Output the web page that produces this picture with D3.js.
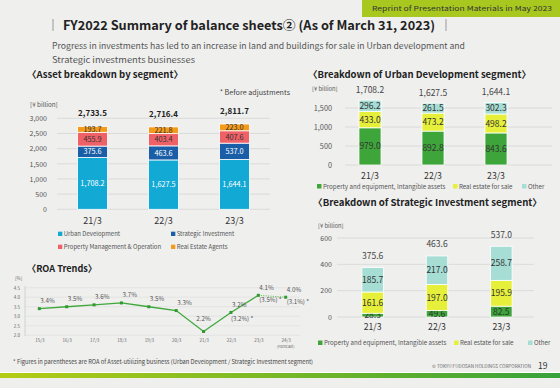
<!DOCTYPE html>
<html><head><meta charset="utf-8">
<script src="https://cdn.jsdelivr.net/npm/d3@7"></script>
<style>html,body{margin:0;padding:0;background:#efefee;}svg{display:block;}</style>
</head><body><svg id="c" width="560" height="388"></svg>
<script>
// ---------- data ----------
const years = ["21/3", "22/3", "23/3"];
// Asset breakdown by segment (¥ billion)
const segUrban = [1708.2, 1627.5, 1644.1];
const segStrategic = [375.6, 463.6, 537.0];
const segPropertyMgmt = [455.9, 403.4, 407.6];
const segAgents = [193.7, 221.8, 223.0];
const segTotals = [2733.5, 2716.4, 2811.7];
const segTicks = [0, 500, 1000, 1500, 2000, 2500, 3000];
// Urban Development breakdown
const udProperty = [979.0, 892.8, 843.6];
const udRealEstate = [433.0, 473.2, 498.2];
const udOther = [296.2, 261.5, 302.3];
const udTotals = [1708.2, 1627.5, 1644.1];
const udTicks = [0, 500, 1000, 1500];
// Strategic Investment breakdown
const siProperty = [28.3, 49.6, 82.5];
const siRealEstate = [161.6, 197.0, 195.9];
const siOther = [185.7, 217.0, 258.7];
const siTotals = [375.6, 463.6, 537.0];
const siTicks = [0, 200, 400, 600];
// ROA trends (%)
const roaYears = ["15/3", "16/3", "17/3", "18/3", "19/3", "20/3", "21/3", "22/3", "23/3", "24/3"];
const roaValues = [3.4, 3.5, 3.6, 3.7, 3.5, 3.3, 2.2, 3.2, 4.1, 4.0];
const roaAsset = [null, null, null, null, null, null, null, 3.2, 3.5, 3.1];
const roaTicks = [2.0, 2.5, 3.0, 3.5, 4.0, 4.5];

// ---------- setup ----------
const svg = d3.select("#c");
const F = '"Noto Sans CJK JP","Noto Sans",sans-serif';
const fmt = d3.format(",.1f");
const pct = v => v.toFixed(1) + "%";

svg.append("rect").attr("width", 560).attr("height", 388).attr("fill", "#efefee");

function txt(x, y, s, o = {}) {
  const t = svg.append("text").attr("x", x).attr("y", y).text(s)
    .attr("font-family", F).attr("font-size", o.size || 8)
    .attr("fill", o.fill || "#333").attr("font-weight", o.weight || "normal")
    .attr("text-anchor", o.anchor || "start");
  if (o.len) t.attr("textLength", o.len).attr("lengthAdjust", "spacingAndGlyphs");
  return t;
}

// header badge
svg.append("rect").attr("x", 362).attr("y", 0).attr("width", 198).attr("height", 17).attr("fill", "#a8c820");
txt(552, 11, "Reprint of Presentation Materials in May 2023", {size: 6.8, fill: "#333", anchor: "end", len: 180});

// title
svg.append("line").attr("x1", 53).attr("x2", 53).attr("y1", 19).attr("y2", 31).attr("stroke", "#999");
svg.append("line").attr("x1", 446).attr("x2", 446).attr("y1", 19).attr("y2", 31).attr("stroke", "#999");
txt(63, 30, "FY2022 Summary of balance sheets\u2461 (As of March 31, 2023)", {size: 12.3, weight: "bold", fill: "#222", len: 372});
txt(52, 49, "Progress in investments has led to an increase in land and buildings for sale in Urban development and", {size: 8.3, fill: "#555", len: 413});
txt(52, 63, "Strategic investments businesses", {size: 8.3, fill: "#555", len: 143});

// section headings
txt(27, 78, "\u3008Asset breakdown by segment\u3009", {size: 9.5, weight: "bold", fill: "#222", len: 156});
txt(308, 78, "\u3008Breakdown of Urban Development segment\u3009", {size: 9.5, weight: "bold", fill: "#222", len: 223});
txt(313, 206, "\u3008Breakdown of Strategic Investment segment\u3009", {size: 9.5, weight: "bold", fill: "#222", len: 229});
txt(27, 272, "\u3008ROA Trends\u3009", {size: 9.5, weight: "bold", fill: "#222", len: 70});

// ---------- stacked bar helper ----------
function stacked(cfg) {
  const g = svg.append("g");
  const y = d3.scaleLinear().domain(cfg.domain).range(cfg.yRange);
  const x = d3.scaleBand().domain(years).range(cfg.xRange).paddingInner(cfg.pad).paddingOuter(cfg.pad / 2);
  g.selectAll("line.grid").data(cfg.ticks).join("line")
    .attr("x1", cfg.gridX[0]).attr("x2", cfg.gridX[1])
    .attr("y1", d => y(d)).attr("y2", d => y(d))
    .attr("stroke", "#d6d6d6").attr("stroke-width", 0.8);
  const ax = g.append("g").attr("transform", `translate(${cfg.tickX},0)`)
    .call(d3.axisLeft(y).tickValues(cfg.ticks).tickFormat(d3.format(",")).tickSize(0).tickPadding(0));
  ax.select(".domain").remove();
  ax.selectAll("text").attr("font-family", F).attr("font-size", cfg.tickSize).attr("fill", "#555");
  txt(cfg.unitX, cfg.unitY, "[\u00a5 billion]", {size: cfg.unitSize, fill: "#555"});
  const rows = years.map((yr, i) => {
    const r = {year: yr};
    cfg.series.forEach(s => r[s.key] = s.values[i]);
    return r;
  });
  const st = d3.stack().keys(cfg.series.map(s => s.key))(rows);
  st.forEach((layer, li) => {
    const s = cfg.series[li];
    g.selectAll(null).data(layer).join("rect")
      .attr("x", d => x(d.data.year)).attr("width", x.bandwidth())
      .attr("y", d => y(d[1])).attr("height", d => y(d[0]) - y(d[1]))
      .attr("fill", s.color).attr("stroke", "#fff").attr("stroke-width", 0.8);
    g.selectAll(null).data(layer).join("text")
      .attr("x", d => x(d.data.year) + x.bandwidth() / 2)
      .attr("y", d => (y(d[0]) + y(d[1])) / 2)
      .attr("dy", "0.36em").attr("text-anchor", "middle")
      .attr("font-family", F).attr("font-size", cfg.labelSize)
      .attr("fill", s.text).text(d => fmt(d.data[s.key]));
  });
  g.selectAll(null).data(cfg.totals).join("text")
    .attr("x", (d, i) => x(years[i]) + x.bandwidth() / 2)
    .attr("y", d => y(d) - cfg.totalGap)
    .attr("text-anchor", "middle").attr("font-family", F)
    .attr("font-size", cfg.totalSize).attr("font-weight", cfg.totalWeight)
    .attr("fill", cfg.totalFill).text(d => fmt(d));
  const xa = g.append("g").attr("transform", `translate(0,${cfg.xLabelY})`)
    .call(d3.axisBottom(x).tickSize(0).tickPadding(0));
  xa.select(".domain").remove();
  xa.selectAll("text").attr("font-family", F).attr("font-size", cfg.xSize).attr("fill", "#333").attr("dy", 0);
  cfg.legend.forEach(l => {
    svg.append("rect").attr("x", l.x).attr("y", l.y - cfg.legSize * 0.72).attr("width", cfg.legSize * 0.72).attr("height", cfg.legSize * 0.72)
      .attr("fill", l.color);
    txt(l.x + cfg.legSize * 0.95, l.y, l.label, {size: cfg.legSize, fill: "#555"});
  });
}

const C = {
  urban: "#13a9d5", strat: "#1b5ea8", pm: "#ee6167", agents: "#f49b1b",
  prop: "#3da53a", re: "#e6f03b", other: "#a6ddd4"
};

// Asset breakdown by segment
stacked({
  domain: [0, 3000], yRange: [209.3, 118.3], xRange: [57, 270], pad: 0.58,
  ticks: segTicks, gridX: [57, 270], tickX: 47, tickSize: 7,
  unitX: 30, unitY: 107, unitSize: 6.3,
  series: [
    {key: "Urban Development", values: segUrban, color: C.urban, text: "#fff"},
    {key: "Strategic Investment", values: segStrategic, color: C.strat, text: "#fff"},
    {key: "Property Management & Operation", values: segPropertyMgmt, color: C.pm, text: "#333"},
    {key: "Real Estate Agents", values: segAgents, color: C.agents, text: "#333"}
  ],
  labelSize: 7.3, totals: segTotals, totalGap: 10, totalSize: 8, totalWeight: "bold", totalFill: "#222",
  xLabelY: 223.5, xSize: 9,
  legSize: 6,
  legend: [
    {x: 58, y: 236, label: "Urban Development", color: C.urban},
    {x: 171, y: 236, label: "Strategic Investment", color: C.strat},
    {x: 58, y: 249, label: "Property Management & Operation", color: C.pm},
    {x: 171, y: 249, label: "Real Estate Agents", color: C.agents}
  ]
});
txt(290, 95, "* Before adjustments", {size: 7.2, fill: "#444", anchor: "end"});

// Urban Development breakdown
stacked({
  domain: [0, 1500], yRange: [165, 108], xRange: [338.5, 527.5], pad: 0.65,
  ticks: udTicks, gridX: [345, 552], tickX: 332, tickSize: 7.3,
  unitX: 312, unitY: 91, unitSize: 5.8,
  series: [
    {key: "Property and equipment, Intangible assets", values: udProperty, color: C.prop, text: "#333"},
    {key: "Real estate for sale", values: udRealEstate, color: C.re, text: "#333"},
    {key: "Other", values: udOther, color: C.other, text: "#333"}
  ],
  labelSize: 8.5, totals: udTotals, totalGap: 7.5, totalSize: 8.5, totalWeight: "normal", totalFill: "#444",
  xLabelY: 178.5, xSize: 8.7,
  legSize: 6.2,
  legend: [
    {x: 317, y: 188.5, label: "Property and equipment, Intangible assets", color: C.prop},
    {x: 453, y: 188.5, label: "Real estate for sale", color: C.re},
    {x: 522, y: 188.5, label: "Other", color: C.other}
  ]
});

// Strategic Investment breakdown
stacked({
  domain: [0, 600], yRange: [317, 238], xRange: [340.5, 533.5], pad: 0.665,
  ticks: siTicks, gridX: [337, 534], tickX: 332, tickSize: 7,
  unitX: 318, unitY: 228, unitSize: 5.8,
  series: [
    {key: "Property and equipment, Intangible assets", values: siProperty, color: C.prop, text: "#333"},
    {key: "Real estate for sale", values: siRealEstate, color: C.re, text: "#333"},
    {key: "Other", values: siOther, color: C.other, text: "#333"}
  ],
  labelSize: 8.5, totals: siTotals, totalGap: 8.5, totalSize: 8.5, totalWeight: "normal", totalFill: "#444",
  xLabelY: 330, xSize: 8.7,
  legSize: 6.2,
  legend: [
    {x: 318, y: 345, label: "Property and equipment, Intangible assets", color: C.prop},
    {x: 454, y: 345, label: "Real estate for sale", color: C.re},
    {x: 528, y: 345, label: "Other", color: C.other}
  ]
});

// ---------- ROA trends ----------
{
  const g = svg.append("g");
  const y = d3.scaleLinear().domain([2.0, 4.5]).range([335.3, 287.7]);
  const x = d3.scalePoint().domain(roaYears).range([39.3, 285.7]);
  g.selectAll(null).data(roaTicks).join("line")
    .attr("x1", 25).attr("x2", 300).attr("y1", d => y(d)).attr("y2", d => y(d))
    .attr("stroke", "#dcdcdc").attr("stroke-width", 0.6);
  g.append("line").attr("x1", 25).attr("x2", 25).attr("y1", 286).attr("y2", 336).attr("stroke", "#ccc").attr("stroke-width", 0.8);
  const ya = g.append("g").attr("transform", "translate(20,0)")
    .call(d3.axisLeft(y).tickValues(roaTicks).tickFormat(d3.format(".1f")).tickSize(0).tickPadding(0));
  ya.select(".domain").remove();
  ya.selectAll("text").attr("font-family", F).attr("font-size", 4.5).attr("fill", "#666");
  txt(15, 280, "[%]", {size: 4.5, fill: "#666"});
  const xa = g.append("g").attr("transform", "translate(0,342)")
    .call(d3.axisBottom(x).tickSize(0).tickPadding(0));
  xa.select(".domain").remove();
  xa.selectAll("text").attr("font-family", F).attr("font-size", 4.5).attr("fill", "#666").attr("dy", 0);
  txt(x("24/3"), 347.5, "(Forecast)", {size: 3.8, fill: "#666", anchor: "middle"});

  const pts = roaYears.map((k, i) => ({k, v: roaValues[i], a: roaAsset[i], i}));
  const line = d3.line().x(d => x(d.k)).y(d => y(d.v));
  g.append("path").attr("d", line(pts.slice(0, 9))).attr("fill", "none")
    .attr("stroke", "#3ea83a").attr("stroke-width", 1.3);
  g.append("path").attr("d", line(pts.slice(8))).attr("fill", "none")
    .attr("stroke", "#6cc05f").attr("stroke-width", 1).attr("stroke-dasharray", "1.2,1.2");
  g.selectAll(null).data(pts).join("rect")
    .attr("x", d => x(d.k) - 1.5).attr("y", d => y(d.v) - 1.5).attr("width", 3).attr("height", 3)
    .attr("fill", "#2f9a2f");
  const minV = d3.min(roaValues);
  g.selectAll(null).data(pts).join("text")
    .attr("x", d => d.v === minV ? x(d.k) : x(d.k) + 1)
    .attr("y", d => d.v === minV ? y(d.v) - 10 : y(d.v) - 5.5)
    .attr("text-anchor", d => d.v === minV ? "middle" : "start")
    .attr("font-family", F).attr("font-size", 6.3).attr("fill", "#555")
    .text(d => pct(d.v));
  const ap = pts.filter(d => d.a != null);
  g.selectAll(null).data(ap).join("text")
    .attr("x", d => x(d.k) + (d.i === 7 ? 0 : 1))
    .attr("y", d => d.i === 7 ? y(d.v) + 9 : y(d.v) + 7)
    .attr("font-family", F).attr("font-size", 6.1).attr("fill", "#555")
    .text(d => "(" + pct(d.a) + ")  *");
}

// ---------- footer ----------
txt(13, 364, "* Figures in parentheses are ROA of Asset-utilizing business (Urban Development / Strategic Investment segment)", {size: 5.6, fill: "#444", len: 300});
txt(432, 368, "\u00a9 TOKYU FUDOSAN HOLDINGS CORPORATION", {size: 4.6, fill: "#666", len: 99});
txt(538, 369, "19", {size: 8.5, fill: "#333"});
const defs = svg.append("defs");
const gr = defs.append("linearGradient").attr("id", "gbar").attr("x1", "0").attr("x2", "1");
gr.append("stop").attr("offset", "0").attr("stop-color", "#b4cc16");
gr.append("stop").attr("offset", "0.5").attr("stop-color", "#78b826");
gr.append("stop").attr("offset", "1").attr("stop-color", "#37a23a");
svg.append("rect").attr("x", 0).attr("y", 372).attr("width", 560).attr("height", 1).attr("fill", "#fff");
svg.append("rect").attr("x", 0).attr("y", 373).attr("width", 560).attr("height", 5).attr("fill", "url(#gbar)");
</script></body></html>
